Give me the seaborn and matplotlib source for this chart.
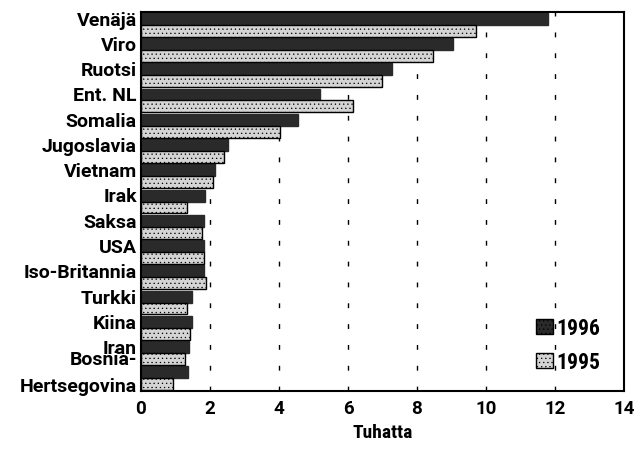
import matplotlib
matplotlib.use("Agg")
import matplotlib.pyplot as plt
import matplotlib.font_manager as fm
import matplotlib.transforms as mtransforms
import seaborn as sns
import pandas as pd
from matplotlib.patches import Patch

countries = ["Venäjä", "Viro", "Ruotsi", "Ent. NL", "Somalia", "Jugoslavia", "Vietnam",
             "Irak", "Saksa", "USA", "Iso-Britannia", "Turkki", "Kiina", "Iran",
             "Bosnia-\nHertsegovina"]
v1996 = [11.8, 9.05, 7.27, 5.2, 4.55, 2.52, 2.14, 1.86, 1.83, 1.83, 1.82, 1.47, 1.47, 1.39, 1.36]
v1995 = [9.7, 8.45, 6.98, 6.15, 4.03, 2.4, 2.08, 1.33, 1.77, 1.83, 1.88, 1.33, 1.42, 1.28, 0.93]
years = ["1996", "1995"]
xticks = [0, 2, 4, 6, 8, 10, 12, 14]

df = pd.DataFrame({
    "maa": countries * 2,
    "arvo": v1996 + v1995,
    "vuosi": ["1996"] * len(countries) + ["1995"] * len(countries),
})

sns.set_style("white")


def _is_bold(w):
    if isinstance(w, (int, float)):
        return w >= 600
    return "bold" in str(w).lower() or "heavy" in str(w).lower()


cond_family = "Roboto"
cands = []
for f in fm.fontManager.ttflist:
    nm = f.name
    if ("Narrow" in nm or "Condensed" in nm or f.stretch in ("condensed", "semi-condensed")) and _is_bold(f.weight):
        cands.append(f)
if cands:
    cands.sort(key=lambda f: (0 if "Roboto" in f.name else 1 if "Liberation" in f.name else 2))
    cond_family = cands[0].name

plt.rcParams['font.family'] = ['Roboto', 'DejaVu Sans']
plt.rcParams['hatch.linewidth'] = 0.4
plt.rcParams['text.color'] = 'black'
plt.rcParams['xtick.color'] = 'black'
plt.rcParams['ytick.color'] = 'black'
plt.rcParams['axes.labelcolor'] = 'black'

fig = plt.figure(figsize=(6.35, 4.56), dpi=100)
ax = fig.add_axes([141/635, 1 - 392/456, (624-141)/635, (392-13)/456])

colors = {"1996": "#2a2a2a", "1995": "#d4d4d4"}
sns.barplot(data=df, y="maa", x="arvo", hue="vuosi", hue_order=years, order=countries,
            palette=colors, orient="h", width=0.94, ax=ax, legend=False,
            edgecolor="black", linewidth=1.0)

for bars, yr in zip(ax.containers, years):
    for p in bars:
        p.set_hatch("....")
        p.set_edgecolor("black" if yr == "1995" else "#2a2a2a")

ax.set_xlim(0, 14)
ax.set_xticks(xticks)
ax.set_xticklabels([str(t) for t in xticks], fontsize=13.5, fontweight="bold")
ax.set_ylabel("")
ax.set_xlabel("Tuhatta", fontsize=14, fontweight="bold", labelpad=4,
              fontfamily=[cond_family, 'DejaVu Sans'])
ax.tick_params(axis="y", length=0, labelsize=14, pad=3)
offset = mtransforms.ScaledTranslation(0, 7/100, fig.dpi_scale_trans)
offset2 = mtransforms.ScaledTranslation(0, 12/100, fig.dpi_scale_trans)
for lab in ax.get_yticklabels():
    lab.set_fontweight("bold")
    if "\n" in lab.get_text():
        lab.set_transform(lab.get_transform() + offset2)
        lab.set_linespacing(1.6)
    else:
        lab.set_transform(lab.get_transform() + offset)
ax.tick_params(axis="x", direction="in", length=3, width=1, pad=6)

for xv in xticks[1:-1]:
    ax.axvline(xv, color="black", linestyle=(0, (3.5, 11.5)), linewidth=1.0, zorder=0)

for s in ax.spines.values():
    s.set_color("black")
    s.set_linewidth(1.5)

handles = [Patch(facecolor=colors[y], edgecolor="black", hatch="....", label=y) for y in years]
leg = ax.legend(handles=handles, loc="lower right", bbox_to_anchor=(459/483, 18/379), frameon=False,
                borderaxespad=0, borderpad=0,
                handlelength=0.8, handleheight=0.65, handletextpad=0.15, labelspacing=0.55,
                prop={"size": 15.5, "weight": "bold", "family": [cond_family, 'DejaVu Sans']})

fig.savefig("out.png", dpi=100)
